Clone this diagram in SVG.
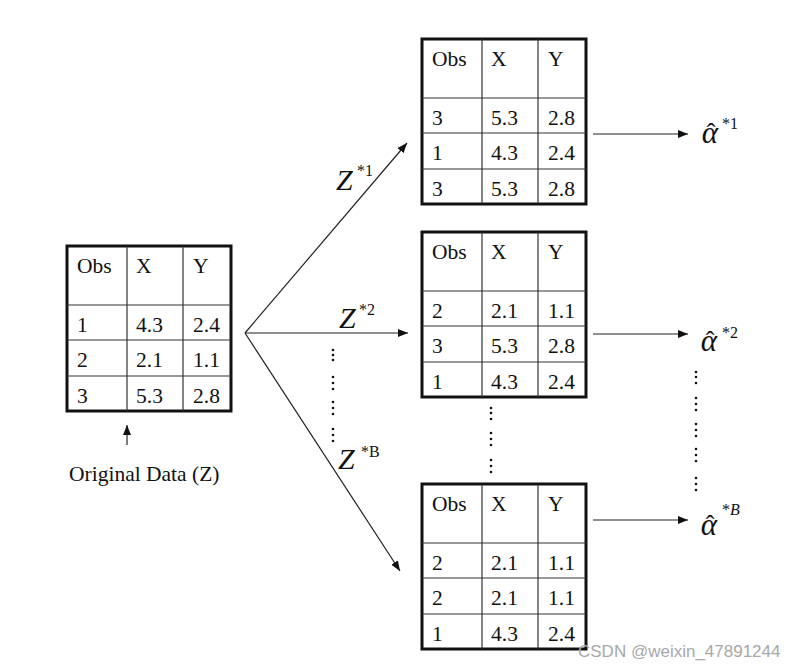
<svg xmlns="http://www.w3.org/2000/svg" width="795" height="670" viewBox="0 0 795 670">
<defs>
<style>
.t{font-family:"Liberation Serif","Times New Roman",serif;font-size:21.5px;fill:#111}
.outer{fill:none;stroke:#111;stroke-width:3}
.inner{stroke:#333;stroke-width:1.2}
.conn{stroke:#222;stroke-width:1.2;fill:none}
.dot{fill:#111}
.z{font-family:"Liberation Serif","Times New Roman",serif;font-size:30px;font-style:italic;fill:#111}
.zs{font-family:"Liberation Serif","Times New Roman",serif;font-size:16px;fill:#111}
.a{font-family:"Liberation Serif","Times New Roman",serif;font-size:31px;font-style:italic;fill:#111}
.h{font-style:normal;font-size:26px}
.as{font-family:"Liberation Serif","Times New Roman",serif;font-size:16px;fill:#111}
</style>
<marker id="ah" viewBox="0 0 10 8" refX="10" refY="4" markerWidth="10" markerHeight="8" markerUnits="userSpaceOnUse" orient="auto">
<path d="M0,0 L10,4 L0,8 Z" fill="#111"/>
</marker>
<g id="grid">
<rect class="outer" x="0" y="0" width="164" height="165"/>
<line class="inner" x1="60" y1="0" x2="60" y2="165"/>
<line class="inner" x1="116" y1="0" x2="116" y2="165"/>
<line class="inner" x1="0" y1="59" x2="164" y2="59"/>
<line class="inner" x1="0" y1="94" x2="164" y2="94"/>
<line class="inner" x1="0" y1="130" x2="164" y2="130"/>
<text class="t" x="10" y="27">Obs</text>
<text class="t" x="69" y="27">X</text>
<text class="t" x="126" y="27">Y</text>
</g>
</defs>

<g id="original" transform="translate(67,246)">
<use href="#grid"/>
<text class="t" x="10" y="86">1</text><text class="t" x="69" y="86">4.3</text><text class="t" x="126" y="86">2.4</text>
<text class="t" x="10" y="121">2</text><text class="t" x="69" y="121">2.1</text><text class="t" x="126" y="121">1.1</text>
<text class="t" x="10" y="157">3</text><text class="t" x="69" y="157">5.3</text><text class="t" x="126" y="157">2.8</text>
</g>

<g id="original-label">
<text class="t" x="69" y="481" font-size="22">Original Data (Z)</text>
</g>

<g id="sample1" transform="translate(422,39)">
<use href="#grid"/>
<text class="t" x="10" y="86">3</text><text class="t" x="69" y="86">5.3</text><text class="t" x="126" y="86">2.8</text>
<text class="t" x="10" y="121">1</text><text class="t" x="69" y="121">4.3</text><text class="t" x="126" y="121">2.4</text>
<text class="t" x="10" y="157">3</text><text class="t" x="69" y="157">5.3</text><text class="t" x="126" y="157">2.8</text>
</g>

<g id="sample2" transform="translate(422,232)">
<use href="#grid"/>
<text class="t" x="10" y="86">2</text><text class="t" x="69" y="86">2.1</text><text class="t" x="126" y="86">1.1</text>
<text class="t" x="10" y="121">3</text><text class="t" x="69" y="121">5.3</text><text class="t" x="126" y="121">2.8</text>
<text class="t" x="10" y="157">1</text><text class="t" x="69" y="157">4.3</text><text class="t" x="126" y="157">2.4</text>
</g>

<g id="sampleB" transform="translate(422,484)">
<use href="#grid"/>
<text class="t" x="10" y="86">2</text><text class="t" x="69" y="86">2.1</text><text class="t" x="126" y="86">1.1</text>
<text class="t" x="10" y="121">2</text><text class="t" x="69" y="121">2.1</text><text class="t" x="126" y="121">1.1</text>
<text class="t" x="10" y="157">1</text><text class="t" x="69" y="157">4.3</text><text class="t" x="126" y="157">2.4</text>
</g>

<g id="alpha1">
<text class="a" y="143"><tspan x="710" text-anchor="middle">α</tspan><tspan class="h" x="711" y="141" text-anchor="middle">ˆ</tspan></text>
<text class="as" x="722" y="129">*1</text>
</g>
<g id="alpha2">
<text class="a" y="351"><tspan x="709" text-anchor="middle">α</tspan><tspan class="h" x="710" y="349" text-anchor="middle">ˆ</tspan></text>
<text class="as" x="722" y="338">*2</text>
</g>
<g id="alphaB">
<text class="a" y="535"><tspan x="709" text-anchor="middle">α</tspan><tspan class="h" x="710" y="533" text-anchor="middle">ˆ</tspan></text>
<text class="as" x="722" y="515">*<tspan font-style="italic">B</tspan></text>
</g>

<g id="connectors">
<line class="conn" x1="245" y1="333" x2="407" y2="143" marker-end="url(#ah)"/>
<line class="conn" x1="245" y1="333" x2="408" y2="333" marker-end="url(#ah)"/>
<line class="conn" x1="245" y1="333" x2="400" y2="571" marker-end="url(#ah)"/>
<line class="conn" x1="593" y1="134" x2="688" y2="134" marker-end="url(#ah)"/>
<line class="conn" x1="593" y1="334" x2="688" y2="334" marker-end="url(#ah)"/>
<line class="conn" x1="593" y1="520" x2="688" y2="520" marker-end="url(#ah)"/>
<line class="conn" x1="127" y1="445" x2="127" y2="425" marker-end="url(#ah)"/>
<text class="z" x="336" y="190">Z</text><text class="zs" x="357" y="176">*1</text>
<text class="z" x="339" y="328">Z</text><text class="zs" x="359" y="315">*2</text>
<text class="z" x="338" y="469">Z</text><text class="zs" x="361" y="457">*B</text>
</g>

<g id="ellipses">
<circle class="dot" cx="333" cy="350" r="1.3"/><circle class="dot" cx="333" cy="355" r="1.3"/><circle class="dot" cx="333" cy="360" r="1.3"/>
<circle class="dot" cx="333" cy="377" r="1.3"/><circle class="dot" cx="333" cy="383" r="1.3"/><circle class="dot" cx="333" cy="389" r="1.3"/>
<circle class="dot" cx="333" cy="402" r="1.3"/><circle class="dot" cx="333" cy="408" r="1.3"/><circle class="dot" cx="333" cy="414" r="1.3"/>
<circle class="dot" cx="333" cy="429" r="1.3"/><circle class="dot" cx="333" cy="435" r="1.3"/><circle class="dot" cx="333" cy="441" r="1.3"/>

<circle class="dot" cx="491" cy="408" r="1.3"/><circle class="dot" cx="491" cy="413" r="1.3"/><circle class="dot" cx="491" cy="419" r="1.3"/>
<circle class="dot" cx="491" cy="433" r="1.3"/><circle class="dot" cx="491" cy="439" r="1.3"/><circle class="dot" cx="491" cy="445" r="1.3"/>
<circle class="dot" cx="491" cy="460" r="1.3"/><circle class="dot" cx="491" cy="466" r="1.3"/><circle class="dot" cx="491" cy="472" r="1.3"/>

<circle class="dot" cx="696" cy="372" r="1.3"/><circle class="dot" cx="696" cy="377" r="1.3"/><circle class="dot" cx="696" cy="383" r="1.3"/>
<circle class="dot" cx="696" cy="398" r="1.3"/><circle class="dot" cx="696" cy="404" r="1.3"/><circle class="dot" cx="696" cy="410" r="1.3"/>
<circle class="dot" cx="696" cy="424" r="1.3"/><circle class="dot" cx="696" cy="430" r="1.3"/><circle class="dot" cx="696" cy="436" r="1.3"/>
<circle class="dot" cx="696" cy="449" r="1.3"/><circle class="dot" cx="696" cy="455" r="1.3"/><circle class="dot" cx="696" cy="461" r="1.3"/>
<circle class="dot" cx="696" cy="478" r="1.3"/><circle class="dot" cx="696" cy="484" r="1.3"/><circle class="dot" cx="696" cy="490" r="1.3"/>
</g>

<g id="watermark">
<text x="578" y="657" font-family="'Liberation Sans',Arial,sans-serif" font-size="17" fill="#a8a8a8">CSDN @weixin_47891244</text>
</g>
</svg>
